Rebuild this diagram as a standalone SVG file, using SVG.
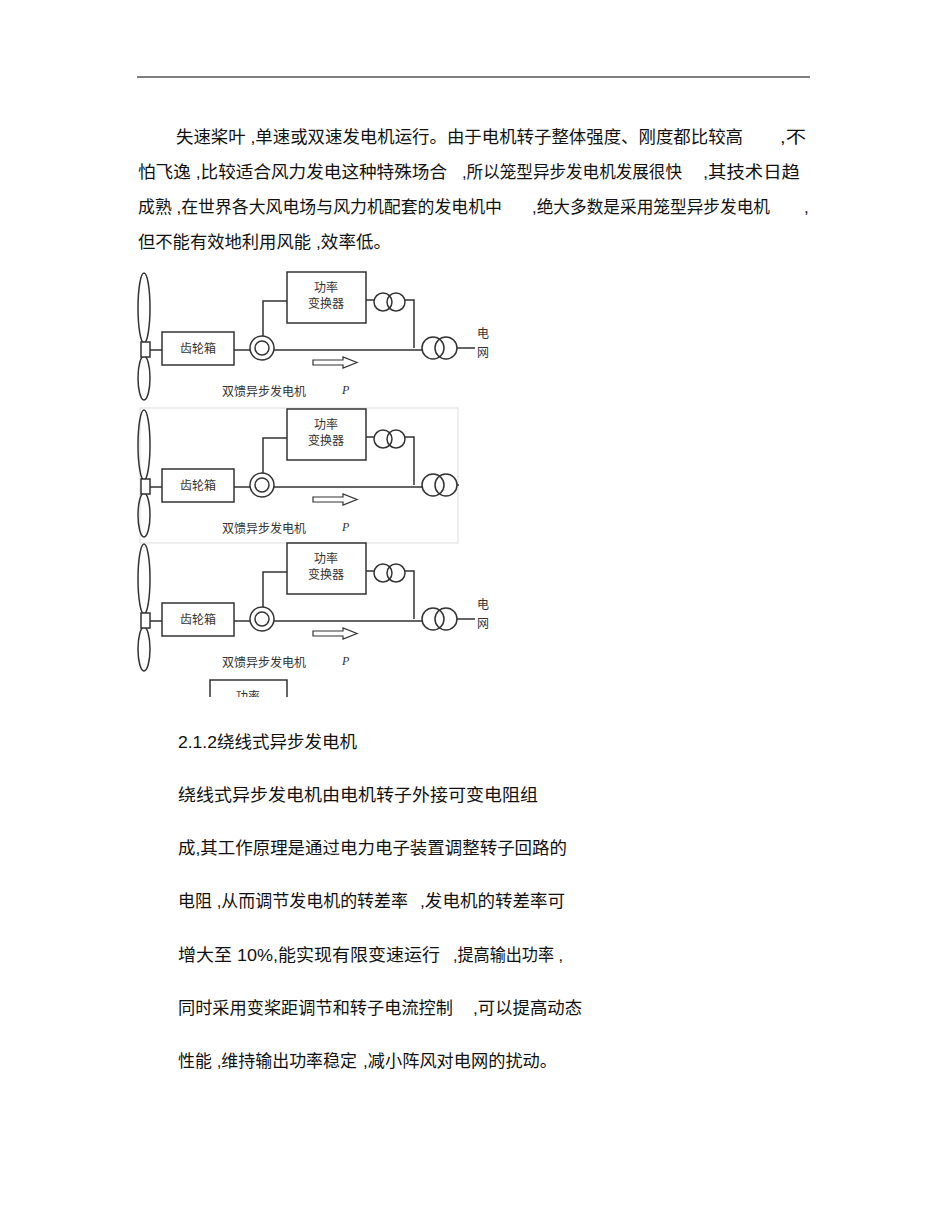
<svg xmlns="http://www.w3.org/2000/svg" width="950" height="1230" viewBox="0 0 950 1230">
<style>
.t{font-family:"Liberation Sans","Noto Sans CJK SC",sans-serif;font-size:17px;fill:#111}
.s{font-family:"Noto Sans CJK SC",sans-serif;font-size:12px;fill:#333}
.ln{stroke:#333;stroke-width:1.5;fill:none}
.bx{stroke:#333;stroke-width:1.5;fill:#fff}
</style>
<defs><clipPath id="cp"><rect x="200" y="675" width="100" height="22"/></clipPath></defs>
<rect width="950" height="1230" fill="#fff"/>
<line x1="137" y1="77" x2="810" y2="77" stroke="#000" stroke-width="1"/>
<g id="para1">
<text class="t" x="176" y="143" textLength="567" lengthAdjust="spacingAndGlyphs">失速桨叶 ,单速或双速发电机运行。由于电机转子整体强度、刚度都比较高</text>
<text class="t" x="780" y="143" textLength="26" lengthAdjust="spacingAndGlyphs">,不</text>
<text class="t" x="138" y="178" textLength="309" lengthAdjust="spacingAndGlyphs">怕飞逸 ,比较适合风力发电这种特殊场合</text>
<text class="t" x="462" y="178" textLength="220" lengthAdjust="spacingAndGlyphs">,所以笼型异步发电机发展很快</text>
<text class="t" x="703" y="178" textLength="97" lengthAdjust="spacingAndGlyphs">,其技术日趋</text>
<text class="t" x="138" y="213" textLength="364" lengthAdjust="spacingAndGlyphs">成熟 ,在世界各大风电场与风力机配套的发电机中</text>
<text class="t" x="532" y="213" textLength="238" lengthAdjust="spacingAndGlyphs">,绝大多数是采用笼型异步发电机</text>
<text class="t" x="804" y="213">,</text>
<text class="t" x="138" y="248" textLength="173" lengthAdjust="spacingAndGlyphs">但不能有效地利用风能</text>
<text class="t" x="316" y="248" textLength="75" lengthAdjust="spacingAndGlyphs">,效率低。</text>
</g>
<g id="diagram1">
<g id="d1-blades"><ellipse class="ln" cx="144" cy="308" rx="6" ry="35"/><ellipse class="ln" cx="144" cy="378" rx="6" ry="22"/><rect class="bx" x="141" y="342" width="9" height="15"/></g>
<g id="d1-gearbox"><rect class="bx" x="162" y="332" width="72" height="33"/><text class="s" x="198" y="353" text-anchor="middle">齿轮箱</text></g>
<g id="d1-generator"><circle class="ln" cx="262" cy="348" r="12"/><circle class="ln" cx="262" cy="348" r="7"/></g>
<g id="d1-converter"><rect class="bx" x="287" y="272" width="79" height="51"/><text class="s" x="326" y="292" text-anchor="middle">功率</text><text class="s" x="326" y="308" text-anchor="middle">变换器</text></g>
<g id="d1-tr1"><circle class="ln" cx="383" cy="302" r="9"/><circle class="ln" cx="396" cy="302" r="9"/></g>
<g id="d1-tr2"><circle class="ln" cx="433" cy="348" r="11"/><circle class="ln" cx="446" cy="348" r="11"/></g>
<g id="d1-conn"><path class="ln" d="M150 350H162M234 350H250M263 336V301H287M366 300H374M405 300H414V348M274 350H422M457 348H475"/><path d="M313 360H343V357L357 362.5L343 368V365H313Z" fill="#fff" stroke="#333" stroke-width="1.2"/></g>
<text class="s" x="222" y="396">双馈异步发电机</text>
<text x="342" y="394" font-family="Liberation Serif,serif" font-style="italic" font-size="12" fill="#333">P</text>
<text class="s" x="477" y="338">电</text><text class="s" x="477" y="357">网</text>
</g>
<g id="diagram2" transform="translate(0,137)">
<rect x="140" y="271" width="318" height="135" fill="none" stroke="#ddd" stroke-width="1"/>
<g id="d2-blades"><ellipse class="ln" cx="144" cy="308" rx="6" ry="35"/><ellipse class="ln" cx="144" cy="378" rx="6" ry="22"/><rect class="bx" x="141" y="342" width="9" height="15"/></g>
<g id="d2-gearbox"><rect class="bx" x="162" y="332" width="72" height="33"/><text class="s" x="198" y="353" text-anchor="middle">齿轮箱</text></g>
<g id="d2-generator"><circle class="ln" cx="262" cy="348" r="12"/><circle class="ln" cx="262" cy="348" r="7"/></g>
<g id="d2-converter"><rect class="bx" x="287" y="272" width="79" height="51"/><text class="s" x="326" y="292" text-anchor="middle">功率</text><text class="s" x="326" y="308" text-anchor="middle">变换器</text></g>
<g id="d2-tr1"><circle class="ln" cx="383" cy="302" r="9"/><circle class="ln" cx="396" cy="302" r="9"/></g>
<g id="d2-tr2"><circle class="ln" cx="433" cy="348" r="11"/><circle class="ln" cx="446" cy="348" r="11"/></g>
<g id="d2-conn"><path class="ln" d="M150 350H162M234 350H250M263 336V301H287M366 300H374M405 300H414V348M274 350H422M457 348H459"/><path d="M313 360H343V357L357 362.5L343 368V365H313Z" fill="#fff" stroke="#333" stroke-width="1.2"/></g>
<text class="s" x="222" y="396">双馈异步发电机</text>
<text x="342" y="394" font-family="Liberation Serif,serif" font-style="italic" font-size="12" fill="#333">P</text>
</g>
<g id="diagram3" transform="translate(0,271)">
<g id="d3-blades"><ellipse class="ln" cx="144" cy="308" rx="6" ry="35"/><ellipse class="ln" cx="144" cy="378" rx="6" ry="22"/><rect class="bx" x="141" y="342" width="9" height="15"/></g>
<g id="d3-gearbox"><rect class="bx" x="162" y="332" width="72" height="33"/><text class="s" x="198" y="353" text-anchor="middle">齿轮箱</text></g>
<g id="d3-generator"><circle class="ln" cx="262" cy="348" r="12"/><circle class="ln" cx="262" cy="348" r="7"/></g>
<g id="d3-converter"><rect class="bx" x="287" y="272" width="79" height="51"/><text class="s" x="326" y="292" text-anchor="middle">功率</text><text class="s" x="326" y="308" text-anchor="middle">变换器</text></g>
<g id="d3-tr1"><circle class="ln" cx="383" cy="302" r="9"/><circle class="ln" cx="396" cy="302" r="9"/></g>
<g id="d3-tr2"><circle class="ln" cx="433" cy="348" r="11"/><circle class="ln" cx="446" cy="348" r="11"/></g>
<g id="d3-conn"><path class="ln" d="M150 350H162M234 350H250M263 336V301H287M366 300H374M405 300H414V348M274 350H422M457 348H475"/><path d="M313 360H343V357L357 362.5L343 368V365H313Z" fill="#fff" stroke="#333" stroke-width="1.2"/></g>
<text class="s" x="222" y="396">双馈异步发电机</text>
<text x="342" y="394" font-family="Liberation Serif,serif" font-style="italic" font-size="12" fill="#333">P</text>
<text class="s" x="477" y="338">电</text><text class="s" x="477" y="357">网</text>
</g>
<g id="partial" clip-path="url(#cp)">
<path class="ln" d="M210 697V680H287V697"/>
<text class="s" x="236" y="701">功率</text>
</g>
<g id="para2">
<text class="t" x="178" y="748" textLength="179" lengthAdjust="spacingAndGlyphs">2.1.2绕线式异步发电机</text>
<text class="t" x="178" y="801" textLength="360" lengthAdjust="spacingAndGlyphs">绕线式异步发电机由电机转子外接可变电阻组</text>
<text class="t" x="178" y="854" textLength="389" lengthAdjust="spacingAndGlyphs">成,其工作原理是通过电力电子装置调整转子回路的</text>
<text class="t" x="178" y="907" textLength="230" lengthAdjust="spacingAndGlyphs">电阻 ,从而调节发电机的转差率</text>
<text class="t" x="420" y="907" textLength="145" lengthAdjust="spacingAndGlyphs">,发电机的转差率可</text>
<text class="t" x="178" y="961" textLength="262" lengthAdjust="spacingAndGlyphs">增大至 10%,能实现有限变速运行</text>
<text class="t" x="453" y="961" textLength="110" lengthAdjust="spacingAndGlyphs">,提高输出功率 ,</text>
<text class="t" x="178" y="1014" textLength="275" lengthAdjust="spacingAndGlyphs">同时采用变桨距调节和转子电流控制</text>
<text class="t" x="473" y="1014" textLength="109" lengthAdjust="spacingAndGlyphs">,可以提高动态</text>
<text class="t" x="178" y="1067" textLength="179" lengthAdjust="spacingAndGlyphs">性能 ,维持输出功率稳定</text>
<text class="t" x="363" y="1067" textLength="194" lengthAdjust="spacingAndGlyphs">,减小阵风对电网的扰动。</text>
</g>
</svg>
